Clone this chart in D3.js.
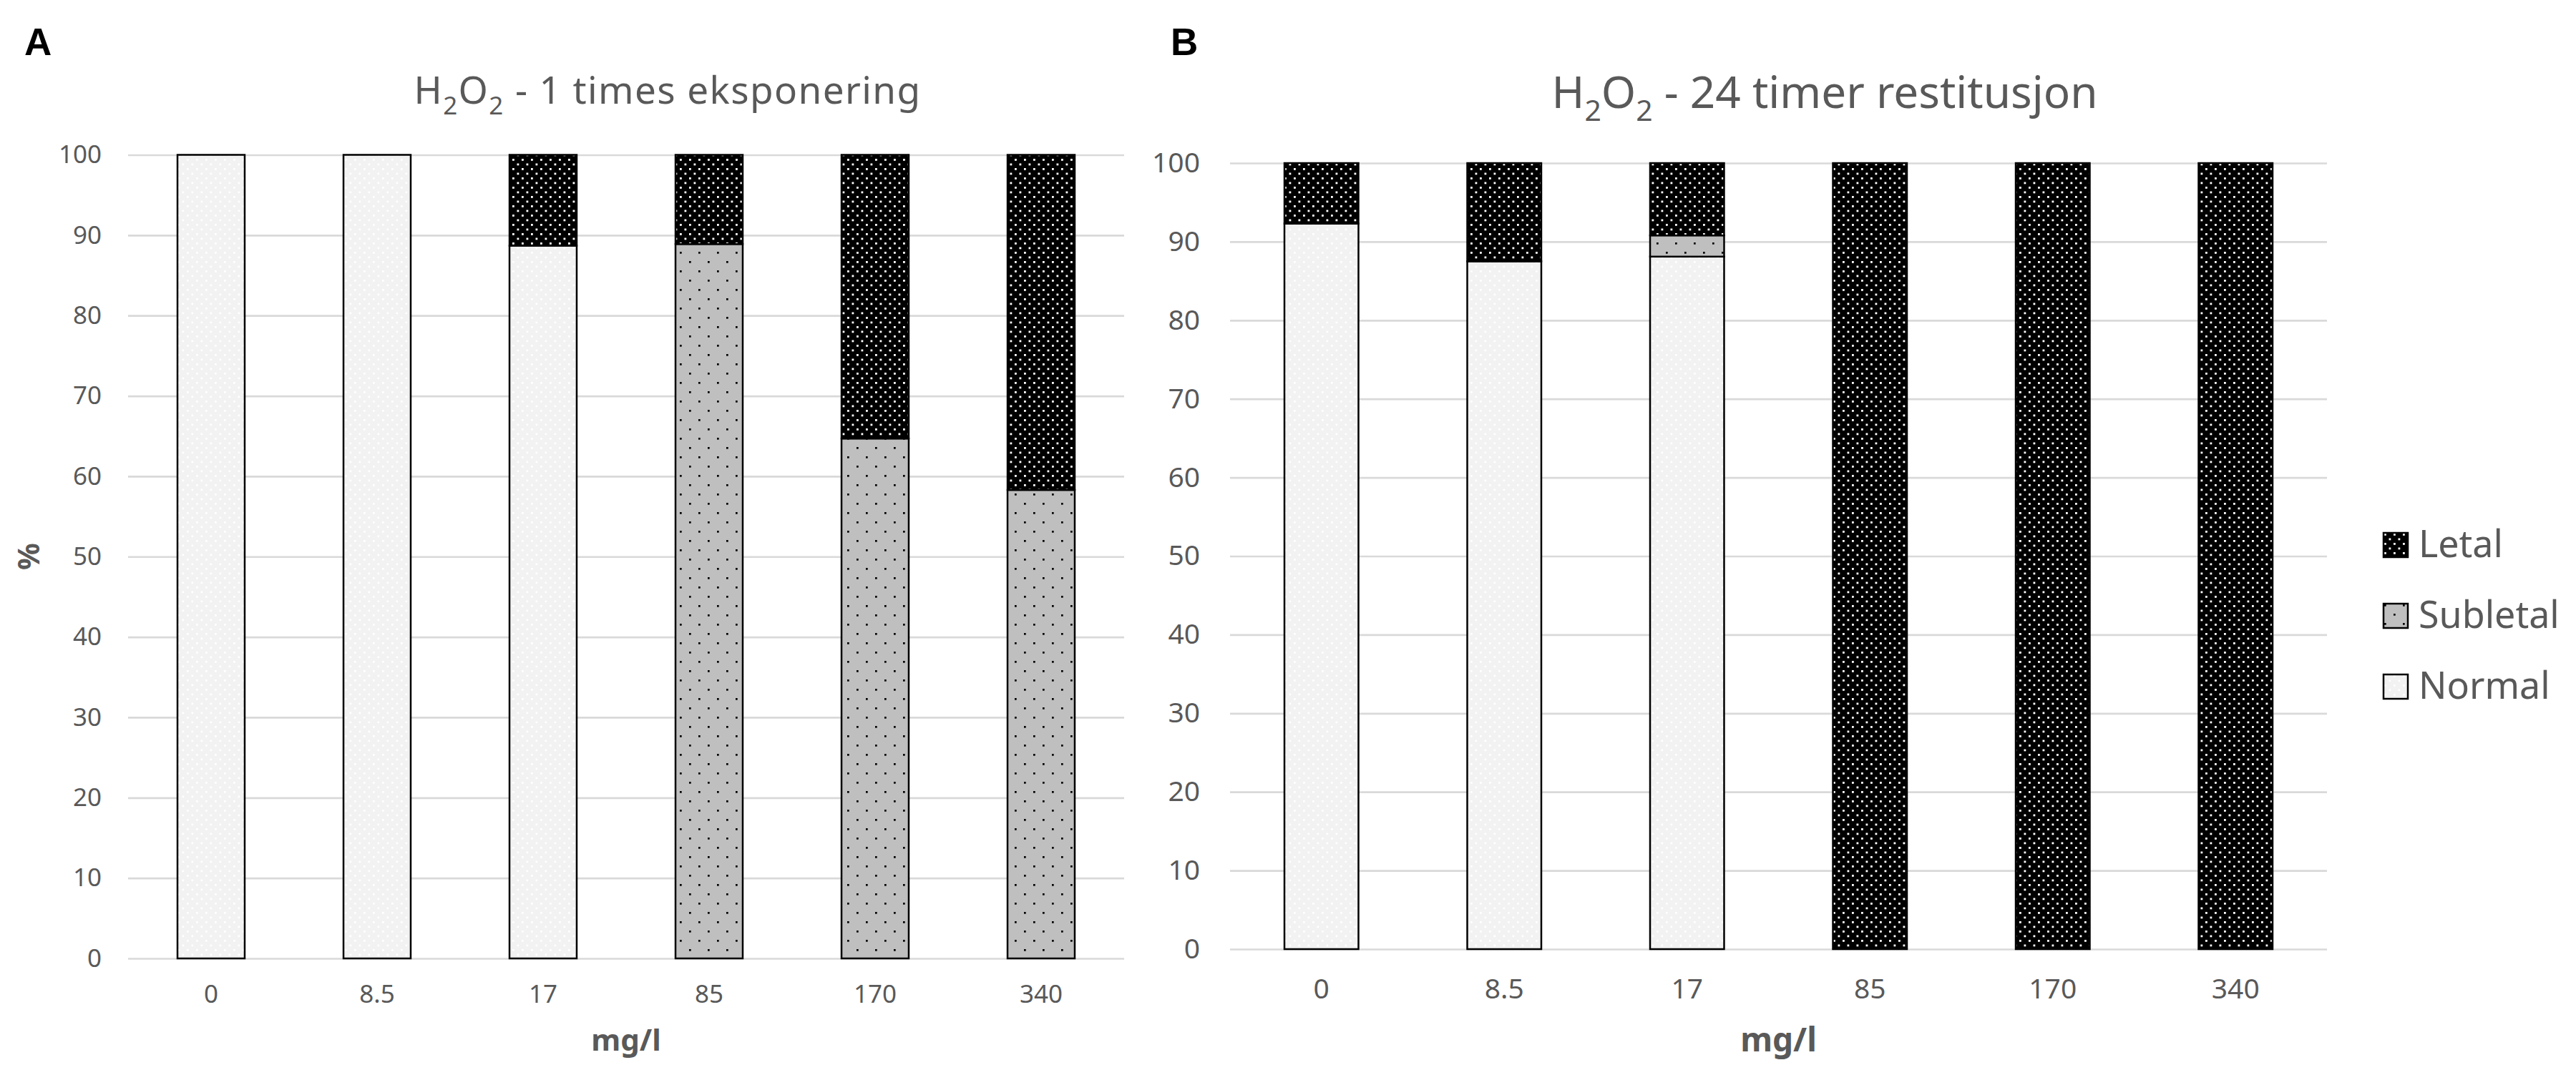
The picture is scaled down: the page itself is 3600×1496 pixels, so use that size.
<!DOCTYPE html>
<html>
<head>
<meta charset="utf-8">
<style>
	body { margin: 0; background: white; }
	text { font-family: "Noto Sans", sans-serif; }
	.grid line { stroke: #d9d9d9; stroke-width: 2.7; }
	.grid .domain { display: none; }
	.ticks .domain { display: none; }
	.ticks text { fill: #595959; }
	.title { fill: #595959; }
	.axis-title { fill: #595959; font-weight: bold; }
	.panel-label { font-family: "Liberation Sans", Arial, sans-serif; font-weight: bold; fill: black; }
	.seg { stroke: black; stroke-width: 2.5; }
</style>
</head>
<body>
<svg width="3600" height="1496"></svg>

<script src="https://cdnjs.cloudflare.com/ajax/libs/d3/7.8.5/d3.min.js"></script>
<script>
// doses (mg/l)
const doses = ["0", "8.5", "17", "85", "170", "340"];

// A: after one exposure (%)
const normalA   = [100, 100, 88.7, 0, 0, 0];
const subletalA = [0, 0, 0, 88.9, 64.7, 58.3];
const letalA    = [0, 0, 11.3, 11.1, 35.3, 41.7];

// B: after 24 h recovery (%)
const normalB   = [92.3, 87.5, 88.1, 0, 0, 0];
const subletalB = [0, 0, 2.7, 0, 0, 0];
const letalB    = [7.7, 12.5, 9.2, 100, 100, 100];

const yTicks = [0, 10, 20, 30, 40, 50, 60, 70, 80, 90, 100];
const seriesKeys = ["Normal", "Subletal", "Letal"];
const legendKeys = ["Letal", "Subletal", "Normal"];

const svg = d3.select("svg");
svg.append("rect").attr("width", 3600).attr("height", 1496).attr("fill", "white");

// pattern fills (Excel style dotted fills)
const defs = svg.append("defs");
function dotPattern(id, bg, dot, step, r) {
	var p = defs.append("pattern")
		.attr("id", id)
		.attr("patternUnits", "userSpaceOnUse")
		.attr("width", step)
		.attr("height", step);
	p.append("rect").attr("width", step).attr("height", step).attr("fill", bg);
	p.append("rect").attr("x", 1).attr("y", 1).attr("width", r).attr("height", r).attr("fill", dot);
	p.append("rect").attr("x", 1 + step / 2).attr("y", 1 + step / 2).attr("width", r).attr("height", r).attr("fill", dot);
}
dotPattern("pNormal", "#f2f2f2", "#ffffff", 13, 2.7);
dotPattern("pSubletal", "#bfbfbf", "#000000", 26, 2.7);
dotPattern("pLetal", "#000000", "#ffffff", 13, 2.8);

const fills = { Normal: "url(#pNormal)", Subletal: "url(#pSubletal)", Letal: "url(#pLetal)" };

function drawPanel(cfg) {
	var rows = doses.map(function(d, i) {
		return { dose: d, Normal: cfg.normal[i], Subletal: cfg.subletal[i], Letal: cfg.letal[i] };
	});

	var x = d3.scaleBand()
		.domain(doses)
		.range([cfg.x0, cfg.x1])
		.paddingInner(0.595)
		.paddingOuter(0.2975);

	var y = d3.scaleLinear()
		.domain([0, 100])
		.range([cfg.y0, cfg.y1]);

	var g = svg.append("g");

	// gridlines
	g.append("g")
		.attr("class", "grid")
		.attr("transform", "translate(" + cfg.x0 + ",0)")
		.call(d3.axisLeft(y).tickValues(yTicks).tickSize(-(cfg.x1 - cfg.x0)).tickFormat(""));

	// y tick labels
	g.append("g")
		.attr("class", "ticks")
		.attr("transform", "translate(" + cfg.x0 + ",0)")
		.call(d3.axisLeft(y).tickValues(yTicks).tickSize(0).tickPadding(cfg.yPad))
		.selectAll("text")
			.style("font-size", cfg.tickSize + "px");

	// x tick labels
	g.append("g")
		.attr("class", "ticks")
		.attr("transform", "translate(0," + cfg.y0 + ")")
		.call(d3.axisBottom(x).tickSize(0).tickPadding(cfg.xPad))
		.selectAll("text")
			.style("font-size", cfg.tickSize + "px");

	// stacked bars
	var stacked = d3.stack().keys(seriesKeys)(rows);
	g.selectAll(".layer")
		.data(stacked)
		.enter()
		.append("g")
			.attr("class", "layer")
			.attr("fill", function(d) { return fills[d.key]; })
		.selectAll("rect")
		.data(function(d) { return d.filter(function(s) { return s[1] - s[0] > 0; }); })
		.enter()
		.append("rect")
			.attr("class", "seg")
			.attr("x", function(d) { return x(d.data.dose); })
			.attr("width", x.bandwidth())
			.attr("y", function(d) { return y(d[1]); })
			.attr("height", function(d) { return y(d[0]) - y(d[1]); });

	// title with subscripts
	var t = g.append("text")
		.attr("class", "title")
		.attr("x", cfg.titleX)
		.attr("y", cfg.titleY)
		.attr("text-anchor", "middle")
		.style("font-size", cfg.titleSize + "px")
		.style("letter-spacing", cfg.titleSpacing + "px");
	var sub = cfg.titleSize * 0.29;
	t.append("tspan").text("H");
	t.append("tspan").attr("dy", sub).style("font-size", "0.66em").text("2");
	t.append("tspan").attr("dy", -sub).text("O");
	t.append("tspan").attr("dy", sub).style("font-size", "0.66em").text("2");
	t.append("tspan").attr("dy", -sub).text(" - " + cfg.title);

	// x axis title
	g.append("text")
		.attr("class", "axis-title")
		.attr("x", (cfg.x0 + cfg.x1) / 2)
		.attr("y", cfg.xTitleY)
		.attr("text-anchor", "middle")
		.style("font-size", cfg.xTitleSize + "px")
		.text("mg/l");

	// panel letter
	g.append("text")
		.attr("class", "panel-label")
		.attr("x", cfg.labelX)
		.attr("y", 77)
		.style("font-size", "53px")
		.text(cfg.label);

	return { x: x, y: y };
}

drawPanel({
	label: "A", labelX: 34,
	normal: normalA, subletal: subletalA, letal: letalA,
	x0: 179, x1: 1571, y0: 1340, y1: 216.5,
	tickSize: 35, yPad: 37, xPad: 37,
	title: "1 times eksponering", titleX: 933, titleY: 145, titleSize: 53, titleSpacing: 1.4,
	xTitleY: 1469, xTitleSize: 42
});

drawPanel({
	label: "B", labelX: 1636,
	normal: normalB, subletal: subletalB, letal: letalB,
	x0: 1719, x1: 3252, y0: 1327, y1: 228,
	tickSize: 39, yPad: 42, xPad: 41,
	title: "24 timer restitusjon", titleX: 2550, titleY: 151, titleSize: 62, titleSpacing: 0,
	xTitleY: 1470, xTitleSize: 46
});

// y axis title for A
svg.append("text")
	.attr("class", "axis-title")
	.attr("transform", "translate(55,778) rotate(-90)")
	.attr("text-anchor", "middle")
	.style("font-size", "42px")
	.text("%");

// legend
var legend = svg.append("g")
	.attr("transform", "translate(3331,745)");

var item = legend.selectAll(".item")
	.data(legendKeys)
	.enter()
	.append("g")
		.attr("class", "item")
		.attr("transform", function(d, i) { return "translate(0," + (i * 99) + ")"; });

item.append("rect")
	.attr("width", 34)
	.attr("height", 34)
	.attr("fill", function(d) { return fills[d]; })
	.attr("stroke", "black")
	.attr("stroke-width", 2.5);

item.append("text")
	.attr("x", 49)
	.attr("y", 34)
	.style("font-size", "52px")
	.attr("fill", "#595959")
	.text(function(d) { return d; });
</script>
</body>
</html>
